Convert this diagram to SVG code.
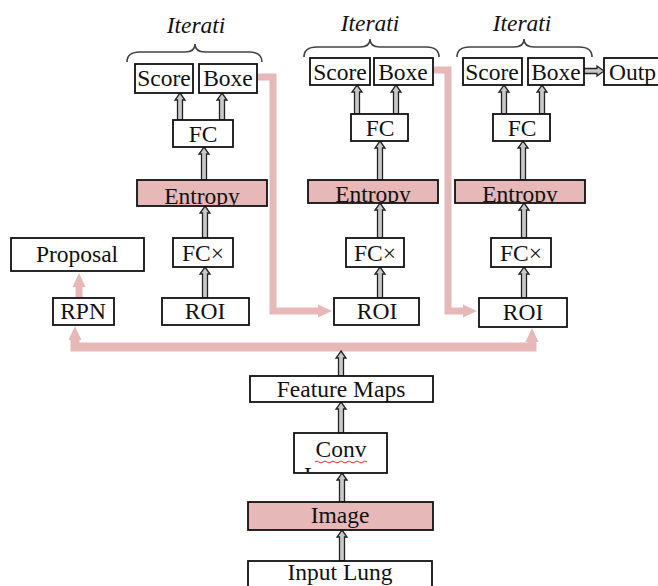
<svg xmlns="http://www.w3.org/2000/svg" width="658" height="586" viewBox="0 0 658 586">
<style>
.bx{fill:#fff;stroke:#111;stroke-width:1.8}
.pk{fill:#e6b8b7;stroke:#111;stroke-width:1.8}
.t{font-family:"Liberation Serif","Times New Roman",serif;font-size:23.5px;fill:#111;text-anchor:middle}
.it{font-family:"Liberation Serif","Times New Roman",serif;font-size:23.5px;font-style:italic;fill:#111;text-anchor:middle}
.br{fill:none;stroke:#444;stroke-width:1.6}
.ha{fill:#c8c8c8;stroke:#222;stroke-width:1.3}
.pl{fill:none;stroke:#e6b8b7;stroke-width:7}
</style>
<defs>
<marker id="pa" markerUnits="userSpaceOnUse" markerWidth="16" markerHeight="16" refX="4" refY="8" orient="auto-start-reverse" viewBox="0 0 16 16">
<path d="M0,1.5 L14,8 L0,14.5 Z" fill="#e6b8b7"/>
</marker>
<clipPath id="c1"><rect x="137" y="180" width="130" height="25"/></clipPath>
<clipPath id="c2"><rect x="308" y="180" width="130" height="22"/></clipPath>
<clipPath id="c3"><rect x="455" y="180" width="130" height="22"/></clipPath>
<clipPath id="cc"><rect x="294" y="433" width="93" height="39"/></clipPath>
</defs>

<g id="connectors">
<path class="pl" d="M257,77 H273 V311 H322" marker-end="url(#pa)"/>
<path class="pl" d="M433,70 H448 V311 H467" marker-end="url(#pa)"/>
<path class="pl" d="M75,336 V347 H532 V338" marker-start="url(#pa)" marker-end="url(#pa)" style="stroke-width:9"/>
<path class="pl" d="M79,298 V283" marker-end="url(#pa)"/>
<polygon class="ha" points="180,93 185,100 182.5,100 182.5,120 177.5,120 177.5,100 175,100"/>
<polygon class="ha" points="222,93 227,100 224.5,100 224.5,120 219.5,120 219.5,100 217,100"/>
<polygon class="ha" points="204,147 209,154 206.5,154 206.5,180 201.5,180 201.5,154 199,154"/>
<polygon class="ha" points="205,206 210,213 207.5,213 207.5,238 202.5,238 202.5,213 200,213"/>
<polygon class="ha" points="205,267 210,274 207.5,274 207.5,298 202.5,298 202.5,274 200,274"/>
<polygon class="ha" points="357,85 362,92 359.5,92 359.5,114 354.5,114 354.5,92 352,92"/>
<polygon class="ha" points="396,85 401,92 398.5,92 398.5,114 393.5,114 393.5,92 391,92"/>
<polygon class="ha" points="380,141 385,148 382.5,148 382.5,180 377.5,180 377.5,148 375,148"/>
<polygon class="ha" points="380,203 385,210 382.5,210 382.5,238 377.5,238 377.5,210 375,210"/>
<polygon class="ha" points="380,267 385,274 382.5,274 382.5,298 377.5,298 377.5,274 375,274"/>
<polygon class="ha" points="504,85 509,92 506.5,92 506.5,114 501.5,114 501.5,92 499,92"/>
<polygon class="ha" points="542,85 547,92 544.5,92 544.5,114 539.5,114 539.5,92 537,92"/>
<polygon class="ha" points="523,141 528,148 525.5,148 525.5,180 520.5,180 520.5,148 518,148"/>
<polygon class="ha" points="524,203 529,210 526.5,210 526.5,238 521.5,238 521.5,210 519,210"/>
<polygon class="ha" points="524,267 529,274 526.5,274 526.5,298 521.5,298 521.5,274 519,274"/>
<polygon class="ha" points="341,351 346,358 343.5,358 343.5,376 338.5,376 338.5,358 336,358"/>
<polygon class="ha" points="341,402 346,409 343.5,409 343.5,433 338.5,433 338.5,409 336,409"/>
<polygon class="ha" points="342,473 347,480 344.5,480 344.5,502 339.5,502 339.5,480 337,480"/>
<polygon class="ha" points="342,530 347,537 344.5,537 344.5,561 339.5,561 339.5,537 337,537"/>
<polygon class="ha" points="604,71 597,66 597,68.5 584,68.5 584,73.5 597,73.5 597,76"/>
</g>

<g id="iter1">
<text class="it" x="196" y="33">Iterati</text>
<path class="br" d="M127,62 Q127,52 140,52 L185,52 Q195,52 195,44 Q195,52 205,52 L249,52 Q262,52 262,62"/>
</g>
<g id="iter2">
<text class="it" x="370" y="31">Iterati</text>
<path class="br" d="M304,57 Q304,47 317,47 L360,47 Q370,47 370,39 Q370,47 380,47 L426,47 Q439,47 439,57"/>
</g>
<g id="iter3">
<text class="it" x="522" y="31">Iterati</text>
<path class="br" d="M457,57 Q457,47 470,47 L514,47 Q524,47 524,39 Q524,47 534,47 L579,47 Q592,47 592,57"/>
</g>

<g id="score1"><rect class="bx" x="135" y="64" width="58" height="29"/><text class="t" x="164" y="86">Score</text></g>
<g id="boxe1"><rect class="bx" x="199" y="64" width="58" height="29"/><text class="t" x="228" y="86">Boxe</text></g>
<g id="fc1"><rect class="bx" x="173" y="120" width="60" height="27"/><text class="t" x="203" y="142">FC</text></g>
<g id="entropy1"><rect class="pk" x="137" y="180" width="130" height="26"/><text class="t" x="202" y="204" clip-path="url(#c1)">Entropy</text></g>
<g id="fcx1"><rect class="bx" x="173" y="238" width="60" height="29"/><text class="t" x="203" y="261">FC×</text></g>
<g id="roi1"><rect class="bx" x="162" y="298" width="87" height="27"/><text class="t" x="205" y="319">ROI</text></g>
<g id="proposal"><rect class="bx" x="11" y="238" width="133" height="33"/><text class="t" x="77" y="262">Proposal</text></g>
<g id="rpn"><rect class="bx" x="53" y="298" width="61" height="27"/><text class="t" x="83" y="319">RPN</text></g>

<g id="score2"><rect class="bx" x="310" y="58" width="60" height="27"/><text class="t" x="340" y="80">Score</text></g>
<g id="boxe2"><rect class="bx" x="374" y="58" width="59" height="27"/><text class="t" x="403" y="80">Boxe</text></g>
<g id="fc2"><rect class="bx" x="351" y="114" width="57" height="27"/><text class="t" x="380" y="136">FC</text></g>
<g id="entropy2"><rect class="pk" x="308" y="180" width="130" height="23"/><text class="t" x="373" y="202" clip-path="url(#c2)">Entropy</text></g>
<g id="fcx2"><rect class="bx" x="346" y="238" width="58" height="29"/><text class="t" x="375" y="261">FC×</text></g>
<g id="roi2"><rect class="bx" x="334" y="298" width="85" height="27"/><text class="t" x="377" y="319">ROI</text></g>

<g id="score3"><rect class="bx" x="463" y="58" width="59" height="27"/><text class="t" x="492" y="80">Score</text></g>
<g id="boxe3"><rect class="bx" x="528" y="58" width="56" height="27"/><text class="t" x="556" y="80">Boxe</text></g>
<g id="output"><rect class="bx" x="604" y="58" width="70" height="27"/><text class="t" x="609" y="80" style="text-anchor:start">Outp</text></g>
<g id="fc3"><rect class="bx" x="493" y="114" width="57" height="27"/><text class="t" x="522" y="136">FC</text></g>
<g id="entropy3"><rect class="pk" x="455" y="180" width="130" height="23"/><text class="t" x="520" y="202" clip-path="url(#c3)">Entropy</text></g>
<g id="fcx3"><rect class="bx" x="491" y="238" width="60" height="29"/><text class="t" x="521" y="261">FC×</text></g>
<g id="roi3"><rect class="bx" x="479" y="298" width="88" height="29"/><text class="t" x="523" y="320">ROI</text></g>

<g id="featuremaps"><rect class="bx" x="250" y="376" width="183" height="26"/><text class="t" x="341" y="397">Feature Maps</text></g>
<g id="conv"><rect class="bx" x="294" y="433" width="93" height="40"/><text class="t" x="341" y="457">Conv</text>
<path d="M315,462 q2,-2 4,0 t4,0 t4,0 t4,0 t4,0 t4,0 t4,0 t4,0 t4,0 t4,0 t4,0 t4,0 t4,0" fill="none" stroke="#e03030" stroke-width="1"/>
<text class="t" x="304" y="483" style="text-anchor:start" clip-path="url(#cc)">L</text></g>
<g id="image"><rect class="pk" x="248" y="502" width="185" height="28"/><text class="t" x="340" y="523">Image</text></g>
<g id="inputlung"><rect class="bx" x="248" y="561" width="184" height="32"/><text class="t" x="340" y="580">Input Lung</text></g>
</svg>
